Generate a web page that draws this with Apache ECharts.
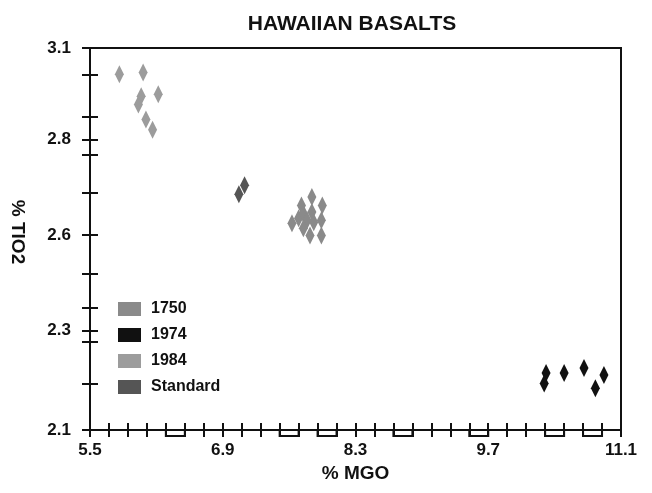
<!DOCTYPE html>
<html>
<head>
<meta charset="utf-8">
<script src="https://cdn.jsdelivr.net/npm/echarts@6/dist/echarts.min.js"></script>
<style>
html,body{margin:0;padding:0;background:#fff;}
#chart{width:652px;height:493px;}
</style>
</head>
<body>
<div id="chart"></div>
<script>
// ---- data ----
const seriesNames = ['1750', '1974', '1984', 'Standard'];
const data1750 = [
  [7.84, 2.710], [7.73, 2.688], [7.95, 2.688], [7.63, 2.641], [7.70, 2.654],
  [7.75, 2.667], [7.79, 2.649], [7.84, 2.671], [7.86, 2.644], [7.94, 2.649],
  [7.82, 2.609], [7.94, 2.609], [7.75, 2.628]
];
const data1974 = [
  [10.31, 2.249], [10.29, 2.222], [10.50, 2.249], [10.71, 2.262], [10.92, 2.244], [10.83, 2.209]
];
const data1984 = [
  [5.81, 3.031], [6.06, 3.036], [6.22, 2.979], [6.04, 2.974], [6.01, 2.952],
  [6.09, 2.913], [6.16, 2.886]
];
const dataStandard = [
  [7.13, 2.741], [7.07, 2.717]
];
const xMin = 5.5, xMax = 11.1;
const yMin = 2.1, yMax = 3.1;
const xLabelValues = [5.5, 6.9, 8.3, 9.7, 11.1];
const xTickValues = [5.5, 5.7, 5.9, 6.1, 6.3, 6.5, 6.7, 6.9, 7.1, 7.3, 7.5, 7.7, 7.9, 8.1, 8.3,
  8.5, 8.7, 8.9, 9.1, 9.3, 9.5, 9.7, 9.9, 10.1, 10.3, 10.5, 10.7, 10.9, 11.1];
const xBoxes = [[6.3, 6.5], [7.5, 7.7], [7.9, 8.1], [8.7, 8.9], [9.5, 9.7], [10.3, 10.5], [10.7, 10.9]];
const yLabelValues = [2.1, 2.36, 2.61, 2.86, 3.1];
const yLabelTexts = ['2.1', '2.3', '2.6', '2.8', '3.1'];
const yTickValues = [2.1, 2.22, 2.33, 2.36, 2.42, 2.51, 2.61, 2.72, 2.82, 2.86, 2.92, 3.03, 3.1];
const colors = ['#8a8a8a', '#111111', '#9c9c9c', '#555555'];

// ---- chart ----
const FONT = "'Liberation Sans', Arial, sans-serif";
const chart = echarts.init(document.getElementById('chart'), null, {renderer: 'canvas'});
const tickStyle = {color: '#111', width: 2};
const diamond = (name, data, color) => ({
  name, type: 'scatter', data,
  symbol: 'diamond', symbolSize: [9, 18],
  itemStyle: {color, opacity: 1}, xAxisIndex: 0, yAxisIndex: 0,
  emphasis: {disabled: true}, z: 3
});

chart.setOption({
  animation: false,
  backgroundColor: '#fff',
  title: {
    text: 'HAWAIIAN BASALTS',
    left: 347, top: 9, textAlign: 'center',
    textStyle: {fontFamily: FONT, fontWeight: 'bold', fontSize: 21, color: '#111'}
  },
  grid: {left: 85, right: 31, top: 48, bottom: 63, show: true, borderColor: '#111', borderWidth: 2, backgroundColor: 'transparent'},
  legend: {
    orient: 'vertical', left: 113, top: 296, itemWidth: 23, itemHeight: 14, itemGap: 10,
    icon: 'rect', data: seriesNames,
    textStyle: {fontFamily: FONT, fontWeight: 'bold', fontSize: 16, color: '#111', padding: [0, 0, 0, 5]},
    selectedMode: false
  },
  xAxis: [
    {
      type: 'value', min: xMin, max: xMax, position: 'bottom',
      name: '% MGO', nameLocation: 'middle', nameGap: 33,
      nameTextStyle: {fontFamily: FONT, fontWeight: 'bold', fontSize: 19, color: '#111'},
      axisLine: {show: true, onZero: false, lineStyle: {color: '#111', width: 2}},
      axisTick: {show: false},
      splitLine: {show: false},
      axisLabel: {customValues: xLabelValues, margin: 12, fontFamily: FONT, fontWeight: 'bold', fontSize: 17, color: '#111',
        formatter: v => v.toFixed(1)}
    },
    {
      type: 'value', min: xMin, max: xMax, position: 'bottom', offset: -7,
      axisLine: {show: false}, splitLine: {show: false}, axisLabel: {show: false},
      axisTick: {show: true, customValues: xTickValues, length: 14, lineStyle: tickStyle}
    }
  ],
  yAxis: [
    {
      type: 'value', min: yMin, max: yMax, position: 'left',
      name: '% TIO2', nameLocation: 'middle', nameGap: 63, nameRotate: -90,
      nameTextStyle: {fontFamily: FONT, fontWeight: 'bold', fontSize: 19, color: '#111', padding: [0, 14, 0, 0]},
      axisLine: {show: true, onZero: false, lineStyle: {color: '#111', width: 2}},
      axisTick: {show: false},
      splitLine: {show: false},
      axisLabel: {customValues: yLabelValues, margin: 19, fontFamily: FONT, fontWeight: 'bold', fontSize: 17, color: '#111',
        formatter: v => {
          const i = yLabelValues.findIndex(t => Math.abs(t - v) < 1e-6);
          return i >= 0 ? yLabelTexts[i] : '';
        }}
    },
    {
      type: 'value', min: yMin, max: yMax, position: 'left', offset: -8,
      axisLine: {show: false}, splitLine: {show: false}, axisLabel: {show: false},
      axisTick: {show: true, customValues: yTickValues, length: 16, lineStyle: tickStyle}
    }
  ],
  series: [
    diamond(seriesNames[0], data1750, colors[0]),
    diamond(seriesNames[1], data1974, colors[1]),
    diamond(seriesNames[2], data1984, colors[2]),
    diamond(seriesNames[3], dataStandard, colors[3]),
    {
      type: 'custom', xAxisIndex: 0, yAxisIndex: 0, clip: false, silent: true, z: 4,
      data: xBoxes,
      renderItem: (params, api) => {
        const a = api.coord([api.value(0), yMin]);
        const b = api.coord([api.value(1), yMin]);
        return {
          type: 'polyline',
          shape: {points: [[a[0], a[1]], [a[0], a[1] + 6], [b[0], b[1] + 6], [b[0], b[1]]]},
          style: {stroke: '#111', lineWidth: 2, fill: null}
        };
      }
    }
  ]
});
</script>
</body>
</html>
